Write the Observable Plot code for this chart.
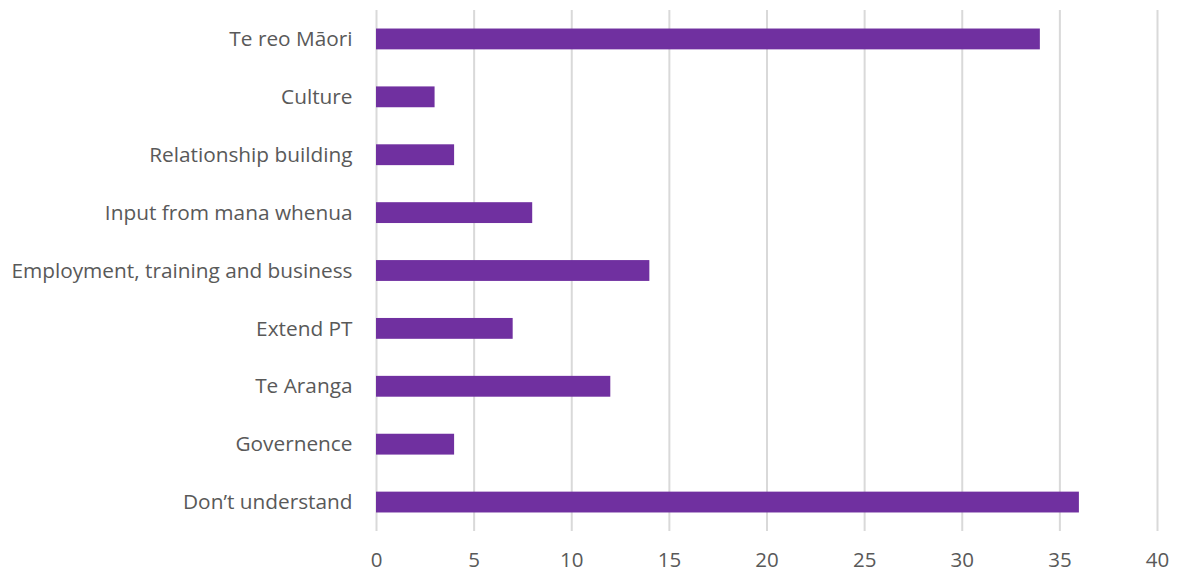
<!DOCTYPE html>
<html>
<head>
<meta charset="utf-8">
<script src="https://cdn.jsdelivr.net/npm/d3@7"></script>
<script src="https://cdn.jsdelivr.net/npm/@observablehq/plot@0.6"></script>
<style>
  html, body { margin: 0; padding: 0; background: #fff; }
</style>
</head>
<body>
<div id="chart"></div>
<script>
const categories = ["Te reo Māori", "Culture", "Relationship building", "Input from mana whenua", "Employment, training and business", "Extend PT", "Te Aranga", "Governence", "Don’t understand"];
const values = [34, 3, 4, 8, 14, 7, 12, 4, 36];
const xTicks = [0, 5, 10, 15, 20, 25, 30, 35, 40];

const data = categories.map((c, i) => ({category: c, value: values[i]}));

const chart = Plot.plot({
  width: 1177,
  height: 574,
  marginLeft: 376,
  marginRight: 20,
  marginTop: 10,
  marginBottom: 43,
  style: {fontFamily: "'Open Sans', sans-serif", fontSize: "21px", color: "#595959", background: "#fff"},
  x: {domain: [0, 40], ticks: xTicks, label: null},
  y: {domain: categories, label: null, paddingInner: 0.64, paddingOuter: 0.32, round: false},
  marks: [
    Plot.gridX(xTicks, {stroke: "#d9d9d9", strokeOpacity: 1, strokeWidth: 2}),
    Plot.barX(data, {x: "value", y: "category", fill: "#7030A0"}),
    Plot.axisX(xTicks, {tickSize: 0, tickPadding: 21, fill: "#595959", fontSize: 20.5}),
    Plot.axisY(categories, {tickSize: 0, tickPadding: 24, fill: "#595959", fontSize: 20.8})
  ]
});
document.getElementById("chart").appendChild(chart);
</script>
</body>
</html>
